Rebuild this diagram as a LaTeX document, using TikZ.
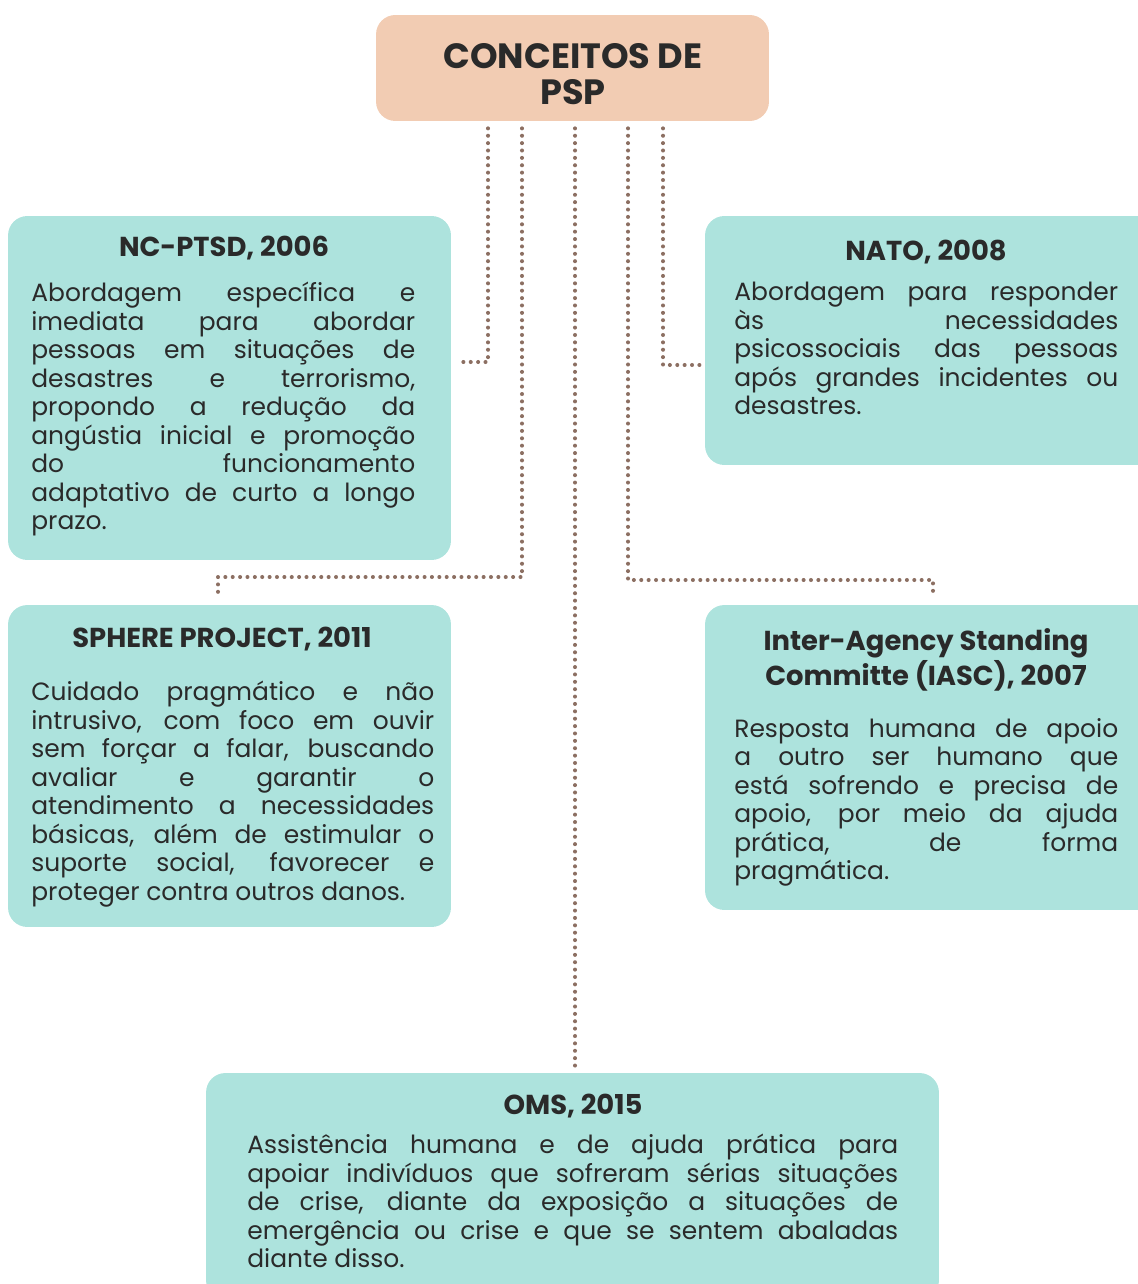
\documentclass[tikz,border=0pt]{standalone}
\usepackage{fontspec}
\setmainfont{Poppins}
\definecolor{peach}{HTML}{F2CCB3}
\definecolor{aqua}{HTML}{ADE3DD}
\definecolor{dotbrown}{HTML}{8C6F62}
\definecolor{ink}{HTML}{2A2A2A}
\hyphenpenalty=10000
\begin{document}
\begin{tikzpicture}[x=0.02cm, y=-0.02cm,
    card/.style={fill=aqua, rounded corners=11pt, inner sep=0pt},
    head/.style={font=\fontsize{15.6}{16.5}\selectfont\bfseries, text=ink, align=center},
    body/.style={font=\fontsize{14.2}{16.2}\selectfont, text=ink, align=justify, anchor=north west, inner sep=0pt},
    dots/.style={draw=dotbrown, line width=2.3pt, line cap=round, dash pattern=on 0pt off 4.2pt}]
  \useasboundingbox (0,0) rectangle (1137,1284);
  % boxes
  \node[card, fill=peach, minimum width=7.86cm, minimum height=2.12cm] (top) at (572.5,68) {};
  \node[card, minimum width=8.86cm, minimum height=6.88cm] (ncptsd) at (229.5,388) {};
  \node[card, minimum width=9.04cm, minimum height=4.98cm] (nato) at (931,340.5) {};
  \node[card, minimum width=8.86cm, minimum height=6.44cm] (sphere) at (229.5,766) {};
  \node[card, minimum width=9.04cm, minimum height=6.10cm] (iasc) at (931,757.5) {};
  \node[card, minimum width=14.66cm, minimum height=4.54cm] (oms) at (572.5,1186.5) {};
  % titles
  \node[head, font=\fontsize{20}{20.5}\selectfont\bfseries] (toptitle) at (573,74) {CONCEITOS DE\\PSP};
  \node[head] (ncptsdtitle) at (224,248) {NC-PTSD, 2006};
  \node[head] (natotitle) at (926,252) {NATO, 2008};
  \node[head] (spheretitle) at (222,639) {SPHERE PROJECT, 2011};
  \node[head] (iasctitle) at (926,660) {Inter-Agency Standing\\Committe (IASC), 2007};
  \node[head] (omstitle) at (573,1106) {OMS, 2015};
  % texts
  \node[body, text width=7.68cm] (ncptsdtext) at (31,282) {Abordagem específica e\linebreak
    imediata para abordar\linebreak
    pessoas em situações de\linebreak
    desastres e terrorismo,\linebreak
    propondo a redução da\linebreak
    angústia inicial e promoção\linebreak
    do funcionamento\linebreak
    adaptativo de curto a longo\linebreak
    prazo.};
  \node[body, text width=7.68cm] (natotext) at (734,282) {Abordagem para responder\linebreak
    às necessidades\linebreak
    psicossociais das pessoas\linebreak
    após grandes incidentes ou\linebreak
    desastres.};
  \node[body, text width=8.06cm] (spheretext) at (31,681) {Cuidado pragmático e não\linebreak
    intrusivo, com foco em ouvir\linebreak
    sem forçar a falar, buscando\linebreak
    avaliar e garantir o\linebreak
    atendimento a necessidades\linebreak
    básicas, além de estimular o\linebreak
    suporte social, favorecer e\linebreak
    proteger contra outros danos.};
  \node[body, text width=7.68cm] (iasctext) at (734,718) {Resposta humana de apoio\linebreak
    a outro ser humano que\linebreak
    está sofrendo e precisa de\linebreak
    apoio, por meio da ajuda\linebreak
    prática, de forma\linebreak
    pragmática.};
  \node[body, text width=13.02cm] (omstext) at (247,1134) {Assistência humana e de ajuda prática para\linebreak
    apoiar indivíduos que sofreram sérias situações\linebreak
    de crise, diante da exposição a situações de\linebreak
    emergência ou crise e que se sentem abaladas\linebreak
    diante disso.};
  % connectors
  \draw[dots, shorten <=4pt, shorten >=3pt] (top.south -| 488,0) |- (ncptsd.east |- 0,362);
  \draw[dots, shorten <=4pt, shorten >=6pt] (top.south -| 522,0) |- (218,577) -- (sphere.north -| 218,0);
  \draw[dots, shorten <=4pt, shorten >=3pt] (top.south -| 575,0) -- (oms.north -| 575,0);
  \draw[dots, shorten <=4pt, shorten >=6pt] (top.south -| 628,0) |- (933,580) -- (iasc.north -| 933,0);
  \draw[dots, shorten <=4pt, shorten >=3pt] (top.south -| 663,0) |- (nato.west |- 0,365);
\end{tikzpicture}
\end{document}
